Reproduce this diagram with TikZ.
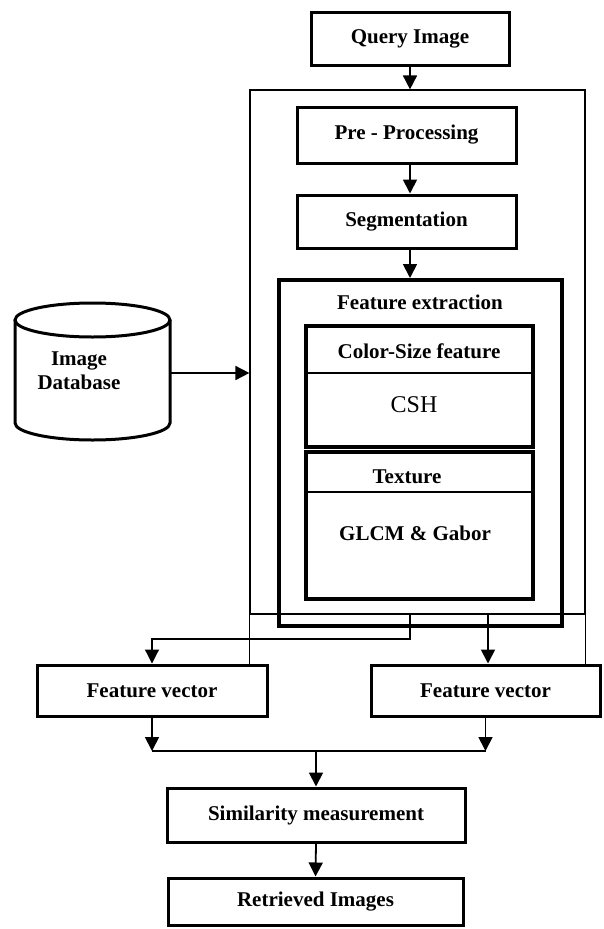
\documentclass[tikz,border=0pt]{standalone}
\usepackage{fontspec}
\setmainfont{Liberation Serif}
\usetikzlibrary{arrows.meta,positioning}
\tikzset{
  blk/.style={draw,line width=3pt,rectangle,inner sep=0pt,font=\fontsize{21}{24}\selectfont\bfseries},
  sub/.style={draw,line width=3.5pt,rectangle,inner sep=0pt},
  lbl/.style={inner sep=0pt,font=\fontsize{21}{24}\selectfont\bfseries},
  flow/.style={line width=1.8pt,-{Triangle[length=14pt,width=14pt]}},
  wire/.style={line width=1.8pt},
  thin/.style={line width=1.2pt}
}

\begin{document}
\begin{tikzpicture}[x=1pt,y=-1pt]
    \useasboundingbox (0,0) rectangle (604,929);

    \node[blk,minimum width=198pt,minimum height=53pt] (query) at (410,38.5) {Query Image};
    \node[draw,thin,rectangle,minimum width=335pt,minimum height=524pt] (stage) at (417.5,352) {};
    \node[blk,minimum width=219pt,minimum height=56pt] (pre) at (406.5,135) {Pre - Processing};
    \node[blk,minimum width=219pt,minimum height=53pt] (seg) at (406.5,221.5) {Segmentation};
    \node[draw,line width=4pt,rectangle,minimum width=283pt,minimum height=346pt] (fe) at (420.5,453) {};
    \node[lbl] (felbl) at (420,302) {Feature extraction};

    \node[sub,minimum width=227pt,minimum height=121pt] (cs) at (419.5,386.5) {};
    \draw[thin] (cs.west |- 0,373) -- (cs.east |- 0,373);
    \node[lbl] (cslbl) at (419,351) {Color-Size feature};
    \node[inner sep=0pt,font=\fontsize{24}{28}\selectfont] (csh) at (414,405) {CSH};

    \node[sub,minimum width=227pt,minimum height=147pt] (tex) at (419.5,525.5) {};
    \draw[thin] (tex.west |- 0,492) -- (tex.east |- 0,492);
    \node[lbl] (texlbl) at (407,477) {Texture};
    \node[lbl] (glcm) at (415,533) {GLCM \& Gabor};

    \draw[line width=3pt] (15,320) -- (15,423) arc[start angle=180,end angle=360,x radius=77.5pt,y radius=17pt] -- (170,320);
    \draw[line width=3pt] (92.5,320) ellipse[x radius=77.5pt,y radius=17pt];
    \node[lbl,align=center] (db) at (79,371) {Image\\Database};
    \coordinate (dbe) at (170,373);

    \node[blk,minimum width=230pt,minimum height=51pt] (fv1) at (152,690.5) {Feature vector};
    \node[blk,minimum width=229pt,minimum height=51pt] (fv2) at (485.5,690.5) {Feature vector};
    \node[blk,minimum width=298pt,minimum height=54pt] (sim) at (316,815) {Similarity measurement};
    \node[blk,minimum width=295pt,minimum height=47pt] (ret) at (315.5,901.5) {Retrieved Images};

    \coordinate (tapL) at (410,614);
    \coordinate (tapR) at (488,614);
    \coordinate (mrg) at (316,751);

    \draw[flow] (query.south -| tapL) -- (stage.north -| tapL);
    \draw[flow] (pre.south -| tapL) -- (seg.north -| tapL);
    \draw[flow] (seg.south -| tapL) -- (fe.north -| tapL);
    \draw[flow] (dbe) -- (dbe -| stage.west);
    \draw[thin] (stage.south west) -- (stage.south west |- fv1.north);
    \draw[thin] (stage.south east) -- (stage.south east |- fv2.north);
    \draw[flow,line width=1.2pt] (tapL) -- ++(0,25) -| (fv1.north);
    \draw[flow] (tapR) -- (tapR |- fv2.north);
    \draw[flow] (fv1.south) -- (fv1.south |- mrg);
    \draw[flow] (fv2.south) -- (fv2.south |- mrg);
    \draw[wire] (fv1.south |- mrg) -- (fv2.south |- mrg);
    \draw[flow] (mrg) -- (sim.north);
    \draw[flow] (sim.south) -- (ret.north);
\end{tikzpicture}
\end{document}
